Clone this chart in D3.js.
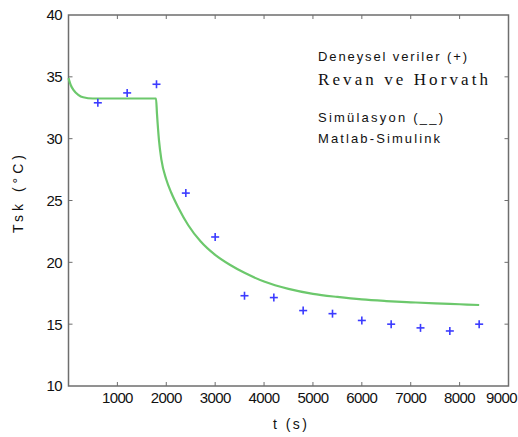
<!DOCTYPE html>
<html><head><meta charset="utf-8">
<script src="https://cdn.jsdelivr.net/npm/d3@7"></script>
<style>body{margin:0;background:#fff}svg{display:block}</style>
</head><body>
<svg id="c" width="518" height="437"></svg>
<script>
// Data
const expT = [600, 1200, 1800, 2400, 3000, 3600, 4200, 4800, 5400, 6000, 6600, 7200, 7800, 8400];
const expV = [32.9, 33.7, 34.4, 25.6, 22.05, 17.3, 17.15, 16.1, 15.85, 15.3, 15.0, 14.7, 14.45, 15.0];
const simT = [0, 50, 100, 200, 300, 500, 1000, 1790, 1810, 1850, 1900, 2000, 2100, 2250, 2450, 2700, 3000, 3300, 3600, 4000, 4500, 5000, 5500, 6000, 6500, 7000, 7500, 8000, 8400];
const simV = [34.9, 34.3, 33.95, 33.55, 33.35, 33.25, 33.25, 33.25, 32.0, 29.9, 28.3, 26.7, 25.65, 24.4, 23.0, 21.7, 20.6, 19.8, 19.15, 18.45, 17.85, 17.45, 17.2, 17.0, 16.87, 16.77, 16.68, 16.61, 16.55];
const xTicks = [1000, 2000, 3000, 4000, 5000, 6000, 7000, 8000, 9000];
const yTicks = [10, 15, 20, 25, 30, 35, 40];

const svg = d3.select("#c");
const L = 68.5, R = 508.5, T = 15, B = 386;
const x = d3.scaleLinear().domain([0, 9000]).range([L, R]);
const y = d3.scaleLinear().domain([10, 40]).range([B, T]);
const axisCol = "#6e6e6e";
const font = "Liberation Sans, Arial, sans-serif";

// frame
svg.append("rect").attr("x", L).attr("y", T).attr("width", R - L).attr("height", B - T)
  .attr("fill", "none").attr("stroke", axisCol).attr("stroke-width", 1.5);

// ticks (inward, all four sides)
const tl = 4;
xTicks.forEach(v => {
  if (v === 9000) return;
  svg.append("line").attr("x1", x(v)).attr("x2", x(v)).attr("y1", B).attr("y2", B - tl).attr("stroke", axisCol);
  svg.append("line").attr("x1", x(v)).attr("x2", x(v)).attr("y1", T).attr("y2", T + tl).attr("stroke", axisCol);
});
yTicks.forEach(v => {
  if (v === 10 || v === 40) return;
  svg.append("line").attr("x1", L).attr("x2", L + tl).attr("y1", y(v)).attr("y2", y(v)).attr("stroke", axisCol);
  svg.append("line").attr("x1", R).attr("x2", R - tl).attr("y1", y(v)).attr("y2", y(v)).attr("stroke", axisCol);
});

// tick labels
svg.append("g").selectAll("text").data(xTicks).join("text")
  .attr("x", d => d === 9000 ? 517 : x(d)).attr("y", 403)
  .attr("text-anchor", d => d === 9000 ? "end" : "middle")
  .attr("font-family", font).attr("font-size", 15).attr("letter-spacing", -0.6).attr("fill", "#111")
  .text(d => d);
svg.append("g").selectAll("text").data(yTicks).join("text")
  .attr("x", 62).attr("y", d => y(d)).attr("dy", "0.36em").attr("text-anchor", "end")
  .attr("font-family", font).attr("font-size", 15).attr("letter-spacing", -0.6).attr("fill", "#111")
  .text(d => d);

// axis titles
svg.append("text").attr("transform", "translate(23,194) rotate(-90)").attr("text-anchor", "middle")
  .attr("font-family", font).attr("font-size", 14).attr("fill", "#111")
  .attr("textLength", 78).attr("lengthAdjust", "spacing").text("Tsk (°C)");
svg.append("text").attr("x", 290).attr("y", 429).attr("text-anchor", "middle")
  .attr("font-family", font).attr("font-size", 14).attr("fill", "#111")
  .attr("textLength", 34).attr("lengthAdjust", "spacing").text("t (s)");

// simulation curve
svg.append("path").datum(simT.map((t, i) => [t, simV[i]]))
  .attr("d", d3.line().x(d => x(d[0])).y(d => y(d[1])).curve(d3.curveMonotoneX))
  .attr("fill", "none").attr("stroke", "#6cc86c").attr("stroke-width", 2.2);

// experimental points
const ps = 4;
const g = svg.append("g").attr("stroke", "#3b3bff").attr("stroke-width", 1.6);
expT.forEach((t, i) => {
  const cx = x(t), cy = y(expV[i]);
  g.append("line").attr("x1", cx - ps).attr("x2", cx + ps).attr("y1", cy).attr("y2", cy);
  g.append("line").attr("x1", cx).attr("x2", cx).attr("y1", cy - ps).attr("y2", cy + ps);
});

// annotations
const ann = [
  {t: "Deneysel veriler (+)", y: 61, len: 149, fs: 13, f: font},
  {t: "Revan ve Horvath", y: 85, len: 170, fs: 17, f: "Liberation Serif, Times New Roman, serif"},
  {t: "Simülasyon (__)", y: 122, len: 125, fs: 13, f: font},
  {t: "Matlab-Simulink", y: 143, len: 122, fs: 13, f: font}
];
svg.append("g").selectAll("text").data(ann).join("text")
  .attr("x", 318).attr("y", d => d.y).attr("font-family", d => d.f).attr("font-size", d => d.fs)
  .attr("fill", "#111").attr("textLength", d => d.len).attr("lengthAdjust", "spacing")
  .text(d => d.t);
</script>
</body></html>
